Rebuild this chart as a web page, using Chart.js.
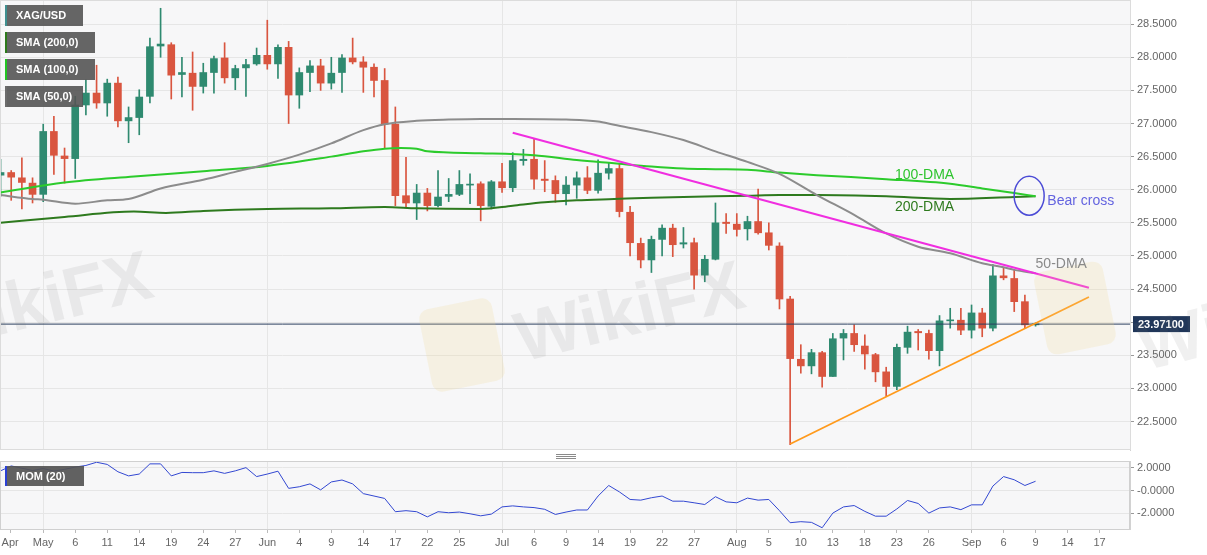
<!DOCTYPE html>
<html>
<head>
<meta charset="utf-8">
<script src="https://cdn.jsdelivr.net/npm/chart.js@4.4.1/dist/chart.umd.min.js"></script>
<style>
  html, body { margin: 0; padding: 0; background: #fff; }
  #wrap { position: relative; width: 1207px; height: 555px; overflow: hidden; }
  canvas { position: absolute; left: 0; }
  #main { top: 0; }
  #mom { top: 452px; }
</style>
</head>
<body>
<div id="wrap">
  <canvas id="main" width="1207" height="452"></canvas>
  <canvas id="mom" width="1207" height="103"></canvas>
</div>
<script>
// XAG/USD daily, one entry per weekday, index 0 = 27 Apr 2021
const opens = [26.22,26.26,26.18,26.10,25.93,26.88,26.51,26.47,27.28,27.46,
  27.31,27.61,27.04,27.09,27.41,28.17,28.19,27.74,27.76,27.56,
  27.77,27.99,27.69,27.84,27.90,28.03,27.90,28.15,27.43,27.77,
  27.87,27.61,27.77,27.99,27.93,27.85,27.65,26.99,25.91,25.80,
  25.95,25.76,25.90,25.93,26.07,26.09,25.75,26.12,26.03,26.44,
  26.46,26.16,26.14,25.94,26.07,26.18,25.99,26.25,26.32,25.66,
  25.19,24.94,25.25,25.42,25.18,25.20,24.71,24.95,25.51,25.48,
  25.41,25.52,25.35,25.15,24.35,23.44,23.34,23.54,23.18,23.76,
  23.83,23.64,23.51,23.25,23.03,23.62,23.86,23.83,23.57,24.02,
  24.03,23.88,24.14,23.91,24.70,24.66,24.31,23.96];
const highs = [26.46,26.29,26.48,26.18,26.99,27.11,26.63,27.41,27.66,27.88,
  27.67,27.70,27.25,27.51,28.29,28.74,28.22,28.00,28.08,27.91,
  28.02,28.22,27.88,27.97,28.14,28.56,28.19,28.24,27.84,27.95,
  27.97,28.00,28.04,28.29,28.01,27.90,27.83,27.25,26.49,26.08,
  26.02,26.29,26.17,26.29,26.24,26.12,26.14,26.40,26.56,26.61,
  26.76,26.44,26.21,26.20,26.27,26.35,26.45,26.40,26.40,25.75,
  25.27,25.30,25.47,25.48,25.43,25.27,25.01,25.80,25.64,25.64,
  25.60,26.01,25.50,25.20,24.39,23.66,23.59,23.56,23.83,23.89,
  23.96,23.81,23.53,23.32,23.67,23.94,23.89,23.88,24.10,24.21,
  24.21,24.26,24.21,24.87,24.82,24.79,24.41,23.99];
const lows = [25.90,25.84,25.71,25.80,25.82,26.23,26.10,26.17,27.13,27.23,
  27.11,26.95,26.71,26.83,27.31,28.00,27.37,27.40,27.20,27.46,
  27.46,27.61,27.51,27.41,27.88,27.82,27.68,27.00,27.23,27.48,
  27.50,27.52,27.47,27.90,27.47,27.40,26.63,25.76,25.74,25.55,
  25.68,25.74,25.82,25.91,25.79,25.53,25.71,25.96,25.97,26.37,
  26.01,25.97,25.81,25.77,25.87,25.94,25.95,26.16,25.59,25.00,
  24.82,24.75,25.00,24.99,25.12,24.50,24.61,24.94,25.34,25.30,
  25.24,25.33,25.09,24.20,22.15,23.23,23.22,23.02,23.18,23.43,
  23.56,23.29,23.10,22.88,22.98,23.53,23.58,23.44,23.34,23.91,
  23.81,23.76,23.78,23.87,24.64,24.16,23.91,23.94];
const closes = [26.26,26.19,26.11,25.93,26.88,26.52,26.47,27.28,27.46,27.31,
  27.61,27.04,27.09,27.40,28.16,28.20,27.73,27.77,27.56,27.77,
  27.98,27.69,27.83,27.89,28.03,27.90,28.15,27.43,27.77,27.87,
  27.61,27.76,27.99,27.93,27.85,27.65,26.99,25.91,25.80,25.95,
  25.76,25.89,25.93,26.08,26.08,25.76,26.12,26.03,26.44,26.46,
  26.16,26.14,25.94,26.07,26.18,25.99,26.25,26.32,25.67,25.20,
  24.94,25.25,25.42,25.17,25.20,24.71,24.95,25.50,25.49,25.40,
  25.52,25.35,25.16,24.35,23.45,23.34,23.54,23.18,23.75,23.83,
  23.66,23.52,23.25,23.03,23.62,23.85,23.84,23.57,24.02,24.03,
  23.88,24.14,23.91,24.70,24.67,24.31,23.96,23.971];
const lastPrice = 23.971;

// moving averages (day index, value)
const sma50Idx = [0,3,4,7,10,12,15,19,22,25,28,31,34,36,39,42,45,48,53,56,57.5,61,64,67,70,73,76.5,80,83,86,89,92,94,95,97];
const sma50Val = [25.92,25.86,25.85,25.79,25.84,25.86,26.02,26.15,26.27,26.39,26.53,26.70,26.90,26.99,27.04,27.06,27.07,27.07,27.06,27.03,26.98,26.87,26.75,26.58,26.42,26.24,25.92,25.62,25.34,25.14,25.04,24.89,24.83,24.79,24.74];
const sma100Idx = [0,6,12.5,19,25,31,34,36,37.5,39,40,45,50,54,57.5,61,64,67,70,73,76.5,83,89,92,95,97];
const sma100Val = [25.96,26.11,26.20,26.28,26.36,26.50,26.58,26.62,26.63,26.62,26.58,26.55,26.52,26.45,26.40,26.35,26.32,26.31,26.30,26.26,26.22,26.16,26.09,26.02,25.95,25.90];
const sma200Idx = [0,6,12.5,15.5,19,25,31,36,39,45,48,51,54,57.5,61,67,70,73,76.5,83,89,95,97];
const sma200Val = [25.50,25.59,25.67,25.65,25.68,25.71,25.72,25.74,25.72,25.71,25.76,25.81,25.84,25.86,25.88,25.90,25.91,25.92,25.92,25.90,25.86,25.89,25.90];

// drawn trend lines
const resistIdx = [48, 102];
const resistVal = [26.86, 24.52];
const supportIdx = [74, 102];
const supportVal = [22.16, 24.38];

// momentum (20)
const momVals = [1.72,2.15,1.95,1.75,1.92,1.70,1.85,2.05,2.19,2.47,
  2.28,1.64,1.28,1.44,2.33,2.33,1.28,1.58,1.56,1.56,
  1.72,1.50,1.72,2.00,1.22,1.44,1.69,0.19,0.33,0.58,
  0.06,0.75,0.92,0.58,-0.27,-0.48,-0.69,-1.85,-1.76,-1.85,
  -2.30,-1.85,-1.94,-1.88,-2.03,-2.21,-2.06,-1.43,-1.34,-1.43,
  -1.49,-1.64,-2.09,-1.88,-1.70,-1.70,-0.48,0.44,-0.12,-0.78,
  -0.84,-0.63,-0.48,-0.93,-0.93,-1.07,-1.22,-0.54,-0.99,-1.07,
  -0.66,-0.84,-0.78,-1.76,-2.81,-2.72,-2.78,-3.25,-1.97,-1.43,
  -1.31,-1.82,-2.24,-2.24,-1.61,-0.87,-1.13,-1.97,-1.52,-1.43,
  -1.67,-1.25,-1.25,0.39,1.22,0.94,0.44,0.81];

// axes
const priceTicks = [22.5,23,23.5,24,24.5,25,25.5,26,26.5,27,27.5,28,28.5];
const momTicks = [2, 0, -2];
const momTickLabels = ['2.0000', '-0.0000', '-2.0000'];
const monthStarts = [4, 25, 47, 69, 91];
const dayTicks = [0.9,4,7,10,13,16,19,22,25,28,31,34,37,40,43,47,50,53,56,59,62,65,69,72,75,78,81,84,87,91,94,97,100,103];
const dayLabels = ['Apr','May','6','11','14','19','24','27','Jun','4','9','14','17','22','25','Jul','6','9','14','19','22','27','Aug','5','10','13','18','23','26','Sep','6','9','14','17'];
const xMin = -0.05, xMax = 105.85;

const FONT = '"Liberation Sans", Arial, sans-serif';
Chart.defaults.font.family = FONT;
Chart.defaults.animation = false;

const UP = '#2f8a70', DOWN = '#d9553f';
const candleColors = opens.map((o, i) => closes[i] >= o ? UP : DOWN);
const pts = (xs, ys) => xs.map((x, i) => ({ x: x, y: ys[i] }));

function logo(ctx, cx, cy, w, h) {
  ctx.save();
  ctx.translate(cx, cy);
  ctx.rotate(-0.2);
  ctx.fillStyle = 'rgba(240,214,140,0.2)';
  ctx.beginPath();
  ctx.roundRect(-w / 2, -h / 2, w, h, 10);
  ctx.fill();
  ctx.restore();
}
function mark(ctx, x, y, txt) {
  ctx.save();
  ctx.translate(x, y);
  ctx.rotate(-0.24);
  ctx.fillStyle = 'rgba(120,120,120,0.11)';
  ctx.font = 'bold 70px ' + FONT;
  ctx.fillText(txt, 0, 0);
  ctx.restore();
}

const mainDecor = {
  id: 'mainDecor',
  beforeDraw(chart) {
    const { ctx, chartArea: a } = chart;
    ctx.save();
    ctx.fillStyle = '#f7f7f8';
    ctx.fillRect(a.left, a.top, a.width, a.height);
    ctx.restore();
  },
  afterDatasetsDraw(chart) {
    const { ctx, scales: { x, y } } = chart;
    ctx.save();
    // faint watermark
    logo(ctx, 462, 345, 74, 84);
    logo(ctx, 1075, 308, 70, 84);
    mark(ctx, 522, 362, 'WikiFX');
    mark(ctx, -70, 352, 'WikiFX');

    // annotations
    ctx.font = '14px ' + FONT;
    ctx.textBaseline = 'middle';
    ctx.textAlign = 'center';
    ctx.fillStyle = '#2ec42e';
    ctx.fillText('100-DMA', x.getPixelForValue(86.6), y.getPixelForValue(26.22));
    ctx.fillStyle = '#2e7a1e';
    ctx.fillText('200-DMA', x.getPixelForValue(86.6), y.getPixelForValue(25.73));
    ctx.textAlign = 'left';
    ctx.fillStyle = '#8a8a8a';
    ctx.fillText('50-DMA', x.getPixelForValue(97), y.getPixelForValue(24.88));
    ctx.fillStyle = '#6464e0';
    ctx.fillText('Bear cross', x.getPixelForValue(98.1), y.getPixelForValue(25.83));
    ctx.beginPath();
    ctx.ellipse(x.getPixelForValue(96.4), y.getPixelForValue(25.91), 15, 19.5, 0, 0, Math.PI * 2);
    ctx.strokeStyle = '#4b4bd6';
    ctx.lineWidth = 1.5;
    ctx.stroke();
    ctx.restore();
  },
  afterDraw(chart) {
    const { ctx, chartArea: a, scales: { y } } = chart;
    ctx.save();
    ctx.strokeStyle = '#dcdcdc';
    ctx.lineWidth = 1;
    ctx.strokeRect(a.left + 0.5, a.top - 0.5, a.width, a.height);

    // legend tags
    const tags = [
      { t: 'XAG/USD', y: 5, w: 78, c: '#3f8f8f' },
      { t: 'SMA (200,0)', y: 32, w: 90, c: '#2d7a1b' },
      { t: 'SMA (100,0)', y: 59, w: 90, c: '#22c422' },
      { t: 'SMA (50,0)', y: 86, w: 78, c: '#6c6c6c' }
    ];
    ctx.font = 'bold 11px ' + FONT;
    ctx.textBaseline = 'middle';
    ctx.textAlign = 'left';
    tags.forEach(g => {
      ctx.fillStyle = 'rgba(84,84,84,0.9)';
      ctx.fillRect(5, g.y, g.w, 21);
      ctx.fillStyle = g.c;
      ctx.fillRect(5, g.y, 2, 21);
      ctx.fillStyle = '#fff';
      ctx.fillText(g.t, 16, g.y + 11);
    });

    // last price tag
    const py = y.getPixelForValue(lastPrice);
    ctx.fillStyle = '#203659';
    ctx.fillRect(a.right + 3, py - 8, 57, 16);
    ctx.fillStyle = '#fff';
    ctx.fillText(lastPrice.toFixed(5), a.right + 8, py + 0.5);

    mark(ctx, 1140, 352, 'Wi');
    ctx.restore();
  }
};

new Chart(document.getElementById('main'), {
  type: 'bar',
  data: {
    datasets: [
      { type: 'line', data: pts(resistIdx, resistVal), borderColor: '#f02ee0', borderWidth: 2, pointRadius: 0 },
      { type: 'line', data: pts(supportIdx, supportVal), borderColor: '#ff9a1c', borderWidth: 1.8, pointRadius: 0 },
      { type: 'line', data: pts([xMin, xMax], [lastPrice, lastPrice]), borderColor: '#2b3e5e', borderWidth: 1, pointRadius: 0 },
      { type: 'line', data: pts(sma50Idx, sma50Val), borderColor: '#8c8c8c', borderWidth: 2, pointRadius: 0, cubicInterpolationMode: 'monotone' },
      { type: 'line', data: pts(sma100Idx, sma100Val), borderColor: '#2ccb2c', borderWidth: 2, pointRadius: 0, cubicInterpolationMode: 'monotone' },
      { type: 'line', data: pts(sma200Idx, sma200Val), borderColor: '#2e7a1e', borderWidth: 2, pointRadius: 0, cubicInterpolationMode: 'monotone' },
      { data: opens.map((o, i) => ({ x: i, y: [o, closes[i]] })), backgroundColor: candleColors,
        barThickness: 7, minBarLength: 1, grouped: false },
      { data: lows.map((l, i) => ({ x: i, y: [l, highs[i]] })), backgroundColor: candleColors,
        barThickness: 1, minBarLength: 1, grouped: false }
    ]
  },
  options: {
    responsive: false,
    layout: { padding: { top: 1, left: 0, right: 0, bottom: 0 } },
    plugins: { legend: { display: false }, tooltip: { enabled: false } },
    scales: {
      x: {
        type: 'linear', min: xMin, max: xMax, offset: false,
        afterBuildTicks: s => { s.ticks = monthStarts.map(v => ({ value: v })); },
        ticks: { display: false },
        grid: { color: '#e6e6e6', drawTicks: false, offset: false },
        border: { display: false },
        afterFit: s => { s.height = 2; s.paddingLeft = 0; s.paddingRight = 0; }
      },
      y: {
        position: 'right', min: 22.07, max: 28.85,
        afterBuildTicks: s => { s.ticks = priceTicks.map(v => ({ value: v })); },
        ticks: { callback: v => v.toFixed(4), color: '#666', font: { size: 11 }, padding: 3 },
        grid: { color: '#e6e6e6', tickLength: 4, tickColor: '#999' },
        border: { color: '#d2d2d2' },
        afterFit: s => { s.width = 77; s.paddingTop = 0; s.paddingBottom = 0; }
      }
    }
  },
  plugins: [mainDecor]
});

const momDecor = {
  id: 'momDecor',
  beforeDraw(chart) {
    const { ctx, chartArea: a } = chart;
    ctx.save();
    ctx.fillStyle = '#f7f7f8';
    ctx.fillRect(a.left, a.top, a.width, a.height);
    ctx.restore();
  },
  afterDraw(chart) {
    const { ctx, chartArea: a } = chart;
    ctx.save();
    ctx.strokeStyle = '#d0d0d0';
    ctx.lineWidth = 1;
    ctx.strokeRect(a.left + 0.5, a.top + 0.5, a.width - 1, a.height);
    ctx.strokeStyle = '#8a8a8a';
    for (let k = 0; k < 3; k++) {
      ctx.beginPath(); ctx.moveTo(556, 2.5 + k * 2); ctx.lineTo(576, 2.5 + k * 2); ctx.stroke();
    }
    ctx.fillStyle = 'rgba(84,84,84,0.92)';
    ctx.fillRect(5, 14, 79, 20);
    ctx.fillStyle = '#2a40d4';
    ctx.fillRect(5, 14, 2, 20);
    ctx.fillStyle = '#fff';
    ctx.font = 'bold 11px ' + FONT;
    ctx.textBaseline = 'middle';
    ctx.fillText('MOM (20)', 16, 24.5);
    ctx.restore();
  }
};

new Chart(document.getElementById('mom'), {
  type: 'line',
  data: {
    datasets: [{ data: momVals.map((v, i) => ({ x: i, y: v })), borderColor: '#3348d2', borderWidth: 1, pointRadius: 0 }]
  },
  options: {
    responsive: false,
    layout: { padding: { top: 9, left: 0, right: 0, bottom: 0 } },
    plugins: { legend: { display: false }, tooltip: { enabled: false } },
    scales: {
      x: {
        type: 'linear', min: xMin, max: xMax, offset: false,
        afterBuildTicks: s => { s.ticks = dayTicks.map(v => ({ value: v })); },
        ticks: { callback: (v, i) => dayLabels[i], autoSkip: false, maxRotation: 0, color: '#666', font: { size: 11 }, padding: 3 },
        grid: { color: c => monthStarts.includes(c.tick && c.tick.value) ? '#e6e6e6' : 'rgba(0,0,0,0)', tickLength: 4, tickColor: '#bbb' },
        border: { display: false },
        afterFit: s => { s.height = 26; s.paddingLeft = 0; s.paddingRight = 0; }
      },
      y: {
        position: 'right', min: -3.36, max: 2.58,
        afterBuildTicks: s => { s.ticks = momTicks.map(v => ({ value: v })); },
        ticks: { callback: (v, i) => momTickLabels[i], color: '#666', font: { size: 11 }, padding: 3 },
        grid: { color: '#e6e6e6', tickLength: 4, tickColor: '#999' },
        border: { color: '#d2d2d2' },
        afterFit: s => { s.width = 77; s.paddingTop = 0; s.paddingBottom = 0; }
      }
    }
  },
  plugins: [momDecor]
});
</script>
</body>
</html>
